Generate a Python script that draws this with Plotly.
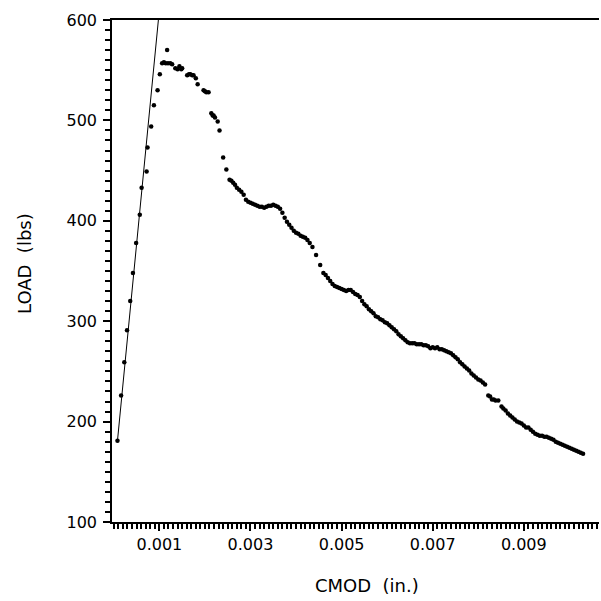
import plotly.graph_objects as go

# Measured CMOD (in.) and LOAD (lbs) points
cmod = [0.00008, 0.00016, 0.00023, 0.00029, 0.00036, 0.00042, 0.00049, 0.00057, 0.00061,
        0.00072, 0.00074, 0.00082, 0.00088, 0.00096, 0.00101,
        0.00106, 0.00110, 0.00114, 0.00117, 0.00119, 0.00124, 0.00128,
        0.00135, 0.00140, 0.00144, 0.00148, 0.00150,
        0.00161, 0.00165, 0.00168, 0.00172, 0.00175, 0.00180, 0.00184,
        0.00197, 0.00200, 0.00203, 0.00208, 0.00214, 0.00217, 0.00219, 0.00222,
        0.00228, 0.00232, 0.00240, 0.00247, 0.00254, 0.00258, 0.00262, 0.00266,
        0.00270, 0.00275, 0.00280, 0.00285, 0.00290, 0.00295, 0.00300, 0.00305, 0.00310,
        0.00315, 0.00320, 0.00325, 0.00330, 0.00335, 0.00340, 0.00345, 0.00350, 0.00355,
        0.00360, 0.00365, 0.00370, 0.00375, 0.00380, 0.00385, 0.00390, 0.00395, 0.00400,
        0.00405, 0.00410, 0.00415, 0.00420, 0.00425, 0.00430, 0.00436, 0.00444, 0.00453,
        0.00460, 0.00465, 0.00470, 0.00475, 0.00480, 0.00485, 0.00490, 0.00495, 0.00500,
        0.00505, 0.00510, 0.00515, 0.00520, 0.00525, 0.00530, 0.00535, 0.00540, 0.00545,
        0.00550, 0.00555, 0.00560, 0.00565, 0.00570, 0.00575, 0.00580, 0.00585, 0.00590,
        0.00595, 0.00600, 0.00605, 0.00610, 0.00615, 0.00620, 0.00625, 0.00630, 0.00635,
        0.00640, 0.00645, 0.00650, 0.00655, 0.00660, 0.00665, 0.00670, 0.00675, 0.00680,
        0.00685, 0.00690, 0.00695, 0.00700, 0.00705, 0.00710, 0.00715, 0.00720, 0.00725,
        0.00730, 0.00735, 0.00740, 0.00745, 0.00750, 0.00755, 0.00760, 0.00765, 0.00770,
        0.00775, 0.00780, 0.00785, 0.00790, 0.00795, 0.00800, 0.00805, 0.00810, 0.00815,
        0.00822, 0.00826, 0.00830, 0.00834, 0.00838, 0.00844, 0.00851, 0.00855, 0.00860,
        0.00865, 0.00870, 0.00875, 0.00880, 0.00885, 0.00890, 0.00895, 0.00900, 0.00905,
        0.00910, 0.00915, 0.00920, 0.00925, 0.00930, 0.00935, 0.00940, 0.00945, 0.00950,
        0.00955, 0.00960, 0.00965, 0.00970, 0.00975, 0.00980, 0.00985, 0.00990, 0.00995,
        0.01000, 0.01005, 0.01010, 0.01015, 0.01020, 0.01025, 0.01030]
load = [181, 226, 259, 291, 320, 348, 378, 406, 433,
        449, 473, 494, 515, 530, 546,
        557, 558, 557, 570, 557, 557, 556,
        552, 551, 554, 551, 552,
        545, 546, 546, 545, 545, 542, 536,
        530, 529, 528, 528, 507, 505, 505, 503,
        499, 490, 463, 451, 441, 440, 438, 436,
        433, 431, 429, 426, 421, 419, 418, 417, 416,
        415, 414, 414, 413, 414, 415, 415, 416, 415,
        414, 412, 408, 403, 399, 396, 393, 390, 388,
        387, 385, 384, 383, 381, 378, 374, 366, 356,
        348, 346, 343, 340, 337, 335, 334, 333, 332,
        331, 330, 331, 331, 329, 327, 326, 324, 320,
        317, 315, 312, 310, 308, 305, 304, 302, 301,
        299, 298, 296, 294, 292, 290, 287, 285, 283,
        281, 279, 278, 278, 278, 277, 277, 277, 276,
        276, 275, 273, 274, 273, 274, 272, 272, 271,
        270, 269, 268, 266, 264, 262, 259, 257, 255,
        253, 251, 248, 246, 244, 242, 241, 239, 237,
        226, 225, 222, 222, 221, 221, 215, 213, 211,
        208, 206, 204, 202, 200, 199, 198, 196, 194,
        194, 192, 190, 188, 187, 186, 186, 185, 185,
        184, 183, 182, 180, 179, 178, 177, 176, 175,
        174, 173, 172, 171, 170, 169, 168]

# Linear (elastic) fit line endpoints
fit_cmod = [0.00008, 0.000978]
fit_load = [181, 600]

x_tick_start = 0.001
x_tick_step = 0.002
y_tick_step = 100

FONT = "DejaVu Sans"

fig = go.Figure()
fig.add_trace(go.Scatter(x=fit_cmod, y=fit_load, mode="lines",
                         line=dict(color="black", width=1), showlegend=False))
fig.add_trace(go.Scatter(x=cmod, y=load, mode="markers",
                         marker=dict(color="black", size=4.5, line=dict(width=0)),
                         showlegend=False))

fig.update_layout(
    width=601, height=601,
    margin=dict(l=112, r=2, t=20, b=79),
    paper_bgcolor="white", plot_bgcolor="white",
    font=dict(family=FONT, color="black", size=16),
    xaxis=dict(range=[-0.00004, 0.01065], tickmode="linear", tick0=x_tick_start,
               dtick=x_tick_step, tickformat=".3f",
               showgrid=False, zeroline=False, showline=True, linecolor="black",
               linewidth=1.5, mirror=True, ticks="outside", ticklen=7, tickwidth=1.5,
               tickcolor="black", tickfont=dict(size=16, family=FONT),
               minor=dict(dtick=0.0001, tick0=0, ticks="outside", ticklen=5,
                          tickcolor="black", tickwidth=1.5, showgrid=False)),
    yaxis=dict(range=[100, 600], tickmode="linear", tick0=100, dtick=y_tick_step,
               showgrid=False, zeroline=False, showline=True, linecolor="black",
               linewidth=1.5, ticks="outside", ticklen=7, tickwidth=1.5,
               tickcolor="black", tickfont=dict(size=16, family=FONT),
               ticklabelstandoff=3,
               minor=dict(dtick=10, tick0=100, ticks="outside", ticklen=5,
                          tickcolor="black", tickwidth=1.5, showgrid=False)),
    annotations=[
        dict(text="LOAD  (lbs)", xref="paper", yref="paper",
             x=(24 - 112) / 487, y=(522 - 264) / 502, xanchor="center", yanchor="middle",
             textangle=-90, showarrow=False, font=dict(size=18, family=FONT)),
        dict(text="CMOD  (in.)", xref="paper", yref="paper",
             x=(367 - 112) / 487, y=(522 - 585) / 502, xanchor="center", yanchor="middle",
             showarrow=False, font=dict(size=18, family=FONT)),
    ],
)

fig.write_html("out.html")
